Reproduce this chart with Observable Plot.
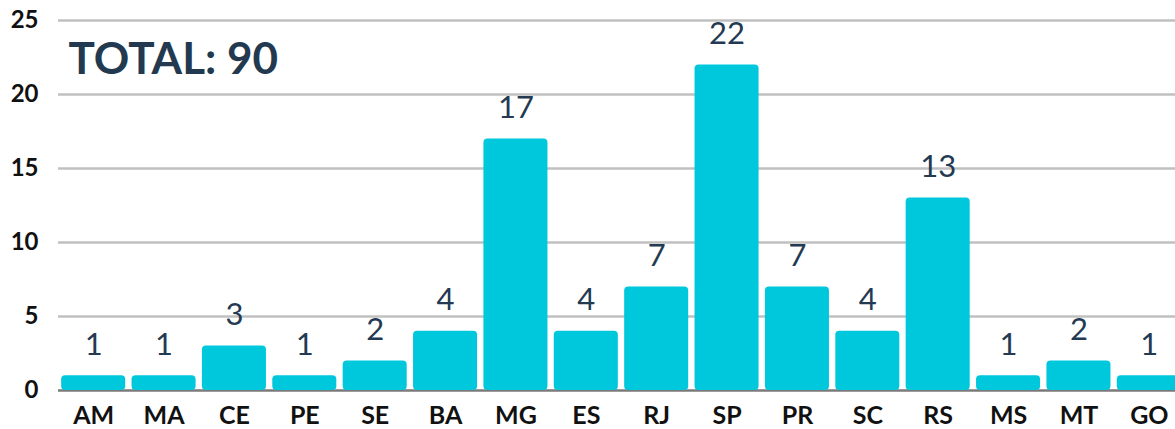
<!DOCTYPE html>
<html>
<head>
<meta charset="utf-8">
<script src="https://cdn.jsdelivr.net/npm/d3@7"></script>
<script src="https://cdn.jsdelivr.net/npm/@observablehq/plot@0.6"></script>
<style>
  html, body { margin: 0; padding: 0; background: #fff; overflow: hidden; }
  #chart svg { font-family: Lato, sans-serif; max-width: none !important; }
</style>
</head>
<body>
<div id="chart"></div>
<script>
const states = ["AM","MA","CE","PE","SE","BA","MG","ES","RJ","SP","PR","SC","RS","MS","MT","GO"];
const counts = [1,1,3,1,2,4,17,4,7,22,7,4,13,1,2,1];
const yTicks = [0,5,10,15,20,25];
const totalLabel = "TOTAL: 90";

const data = states.map((s, i) => ({state: s, count: counts[i]}));

const chart = Plot.plot({
  width: 1190,
  height: 429,
  marginLeft: 58,
  marginRight: 6,
  marginTop: 20,
  marginBottom: 39,
  style: {fontFamily: "Lato, sans-serif", background: "#fff", maxWidth: "none"},
  x: {domain: states, paddingInner: 0.09, paddingOuter: 0.045, round: false, label: null},
  y: {domain: [0, 25], ticks: yTicks, label: null},
  marks: [
    Plot.ruleY(yTicks.filter(d => d > 0), {stroke: "#c0c0c0", strokeWidth: 2.5}),
    Plot.ruleY([0], {stroke: "#7a7a7a", strokeWidth: 2.5}),
    Plot.barY(data, {x: "state", y: "count", fill: "#00c8dc", rx: 4}),
    Plot.text(data, {x: "state", y: "count", text: d => String(d.count), lineAnchor: "bottom", dy: -21, fontSize: 31, fill: "#243a52"}),
    Plot.text([totalLabel], {frameAnchor: "top-left", text: d => d, dx: 10, dy: 22, lineAnchor: "top", textAnchor: "start", fontSize: 44, fontWeight: "bold", fill: "#22394f"}),
    Plot.axisY({ticks: yTicks, tickSize: 0, tickPadding: 20, fontSize: 24, fontWeight: "bold", fill: "#111", anchor: "left"}),
    Plot.axisX({tickSize: 0, tickPadding: 16, fontSize: 25, fontWeight: "bold", fill: "#111"})
  ]
});
chart.style.maxWidth = "none";
document.getElementById("chart").appendChild(chart);
</script>
</body>
</html>
